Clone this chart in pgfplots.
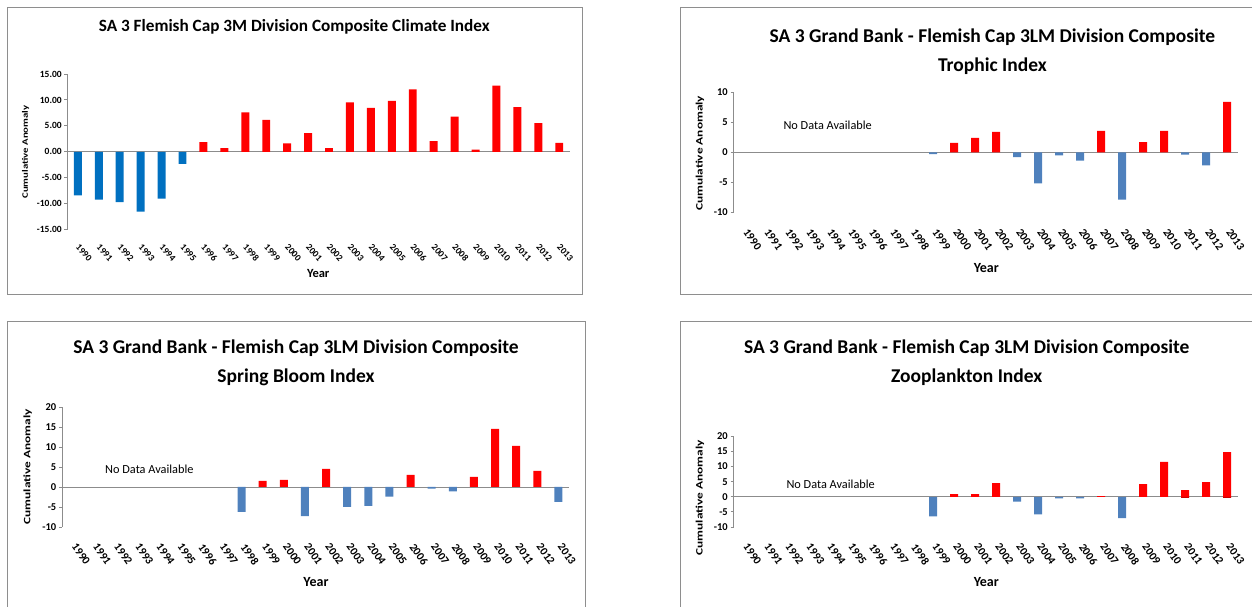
\documentclass[border=0pt]{standalone}
\usepackage{fontspec}
\setmainfont{Carlito}
\usepackage{graphicx}
\usepackage{pgfplots}
\pgfplotsset{compat=1.18}
\definecolor{xlblue}{HTML}{0070C0}
\definecolor{stblue}{HTML}{4F81BD}
\definecolor{xlred}{HTML}{FF0000}
\definecolor{framegray}{HTML}{8E8E8E}
\definecolor{axgray}{HTML}{8C8C8C}

\pgfplotsset{
  panel/.style={
    scale only axis, anchor=south west, clip=false,
    xmin=-0.5, xmax=23.5,
    axis x line*=bottom, axis y line*=left,
    x axis line style={draw=none},
    y axis line style={axgray, line width=0.9pt, -},
    ytick style={axgray, line width=0.9pt},
    xtick style={draw=none},
    tick align=outside, major tick length=3pt,
    xtick={0,...,23},
    xticklabels={1990,1991,1992,1993,1994,1995,1996,1997,1998,1999,2000,2001,2002,2003,2004,2005,2006,2007,2008,2009,2010,2011,2012,2013},
    /pgf/number format/assume math mode=true,
    yticklabel style={inner sep=0pt, xshift=-2.5pt},
    ybar, bar shift=0pt, bar width=0.38,
  },
  smallticks/.style={
    xticklabel style={xshift=2pt, yshift=-10.5pt, rotate=-48, anchor=north west, inner sep=0pt, font=\bfseries\fontsize{9.3}{10}\selectfont},
    yticklabel style={font=\bfseries\fontsize{9.5}{11}\selectfont},
  },
  bigticks/.style={
    xticklabel style={xshift=5pt, yshift=-12.3pt, rotate=-55, anchor=north west, inner sep=0pt, font=\bfseries\fontsize{11.3}{12}\selectfont},
    yticklabel style={font=\bfseries\fontsize{10.5}{12}\selectfont},
  },
}

\begin{document}
\begin{tikzpicture}[x=1pt,y=1pt]
\useasboundingbox (0,0) rectangle (1252,607);
\clip (0,0) rectangle (1252,607);

% ---------- Panel 1: Climate ----------
\begin{axis}[panel, smallticks,
  at={(67.4pt,377.3pt)}, width=502.3pt, height=155.7pt,
  ymin=-15, ymax=15, ytick={-15,-10,...,15},
  yticklabel style={/pgf/number format/.cd, fixed, fixed zerofill, precision=2}]
\draw[axgray, line width=0.9pt] (axis cs:-0.5,0) -- (axis cs:23.5,0);
\addplot[fill=xlblue, draw=none] coordinates {
 (0,-8.4) (1,-9.2) (2,-9.7) (3,-11.5) (4,-9.0) (5,-2.3)};
\addplot[fill=xlred, draw=none] coordinates {
 (6,1.85) (7,0.7) (8,7.6) (9,6.15) (10,1.65) (11,3.6) (12,0.7) (13,9.55)
 (14,8.45) (15,9.8) (16,12.05) (17,2.05) (18,6.8) (19,0.45) (20,12.75)
 (21,8.6) (22,5.55) (23,1.75)};
\end{axis}

% ---------- Panel 2: Trophic ----------
\begin{axis}[panel, bigticks,
  at={(733.5pt,394.7pt)}, width=504pt, height=120pt,
  ymin=-10, ymax=10, ytick={-10,-5,...,10}]
\draw[axgray, line width=0.9pt] (axis cs:-0.5,0) -- (axis cs:23.5,0);
\addplot[fill=stblue, draw=none] coordinates {
 (9,-0.3) (13,-0.8) (14,-5.2) (15,-0.5) (16,-1.4) (18,-7.9) (21,-0.4) (22,-2.2)};
\addplot[fill=xlred, draw=none] coordinates {
 (10,1.55) (11,2.4) (12,3.4) (17,3.55) (19,1.7) (20,3.55) (23,8.4)};
\end{axis}

% ---------- Panel 3: Spring Bloom ----------
\begin{axis}[panel, bigticks,
  at={(62pt,80pt)}, width=507pt, height=120pt,
  ymin=-10, ymax=20, ytick={-10,-5,...,20}]
\draw[axgray, line width=0.9pt] (axis cs:-0.5,0) -- (axis cs:23.5,0);
\addplot[fill=stblue, draw=none] coordinates {
 (8,-6.2) (11,-7.3) (13,-5.0) (14,-4.7) (15,-2.4) (17,-0.4) (18,-1.1) (23,-3.7)};
\addplot[fill=xlred, draw=none] coordinates {
 (9,1.5) (10,1.75) (12,4.5) (16,3.0) (19,2.5) (20,14.5) (21,10.25) (22,4.0)};
\end{axis}

% ---------- Panel 4: Zooplankton ----------
\begin{axis}[panel, bigticks,
  at={(733.5pt,80pt)}, width=504pt, height=90.7pt,
  ymin=-10, ymax=20, ytick={-10,-5,...,20}]
\draw[axgray, line width=0.9pt] (axis cs:-0.5,0) -- (axis cs:23.5,0);
\addplot[fill=stblue, draw=none] coordinates {
 (9,-6.5) (13,-1.6) (14,-5.85) (15,-0.5) (16,-0.5) (18,-7.05)};
\addplot[fill=xlred, draw=none] coordinates {
 (10,0.9) (11,0.9) (12,4.5) (17,0.2) (19,4.2) (20,11.5) (21,2.2) (22,4.85) (23,14.8)};
\addplot[fill=xlred!80!black, draw=none] coordinates {(21,-0.4) (23,-0.4)};
\end{axis}

% ---------- Frames and texts (image coordinates) ----------
\begin{scope}[x=1pt, y=-1pt, yshift=607pt]
\draw[framegray, line width=1pt] (7.6,7.3) rectangle (582,294.3);
\draw[framegray, line width=1pt] (680,7.3) rectangle (1262,294.3);
\draw[framegray, line width=1pt] (7.7,321.7) rectangle (585,620);
\draw[framegray, line width=1pt] (680,321.7) rectangle (1262,620);

% Panel 1
\node[font=\bfseries\fontsize{17.2}{19}\selectfont] at (294.3,27.3) {SA 3 Flemish Cap 3M Division Composite Climate Index};
\node[font=\bfseries\fontsize{12.5}{14}\selectfont] at (318.2,273) {Year};
\node[rotate=90, font=\bfseries\fontsize{8.3}{9}\selectfont] at (25.6,152) {\scalebox{1.3}[1]{Cumulative Anomaly}};

% Panel 2
\node[font=\bfseries\fontsize{19.5}{21}\selectfont] at (992.4,37.7) {SA 3 Grand Bank - Flemish Cap 3LM Division Composite};
\node[font=\bfseries\fontsize{19.5}{21}\selectfont] at (992.4,66.7) {Trophic Index};
\node[anchor=west, inner sep=0pt, font=\fontsize{12.3}{14}\selectfont] at (783.3,125.7) {No Data Available};
\node[rotate=90, font=\bfseries\fontsize{9.8}{11}\selectfont] at (700,153.3) {\scalebox{1.36}[1]{Cumulative Anomaly}};
\node[font=\bfseries\fontsize{14}{16}\selectfont] at (986.3,268.3) {Year};

% Panel 3
\node[font=\bfseries\fontsize{19.5}{21}\selectfont] at (296,348.3) {SA 3 Grand Bank - Flemish Cap 3LM Division Composite};
\node[font=\bfseries\fontsize{19.5}{21}\selectfont] at (296,377.3) {Spring Bloom Index};
\node[anchor=west, inner sep=0pt, font=\fontsize{12.3}{14}\selectfont] at (105,469) {No Data Available};
\node[rotate=90, font=\bfseries\fontsize{9.8}{11}\selectfont] at (27.7,466.7) {\scalebox{1.36}[1]{Cumulative Anomaly}};
\node[font=\bfseries\fontsize{14}{16}\selectfont] at (316,582.3) {Year};

% Panel 4
\node[font=\bfseries\fontsize{19.5}{21}\selectfont] at (966.7,348.3) {SA 3 Grand Bank - Flemish Cap 3LM Division Composite};
\node[font=\bfseries\fontsize{19.5}{21}\selectfont] at (966.7,377.3) {Zooplankton Index};
\node[anchor=west, inner sep=0pt, font=\fontsize{12.3}{14}\selectfont] at (786.3,484.3) {No Data Available};
\node[rotate=90, font=\bfseries\fontsize{9.8}{11}\selectfont] at (700,497.7) {\scalebox{1.36}[1]{Cumulative Anomaly}};
\node[font=\bfseries\fontsize{14}{16}\selectfont] at (986.3,582.3) {Year};
\end{scope}
\end{tikzpicture}
\end{document}
